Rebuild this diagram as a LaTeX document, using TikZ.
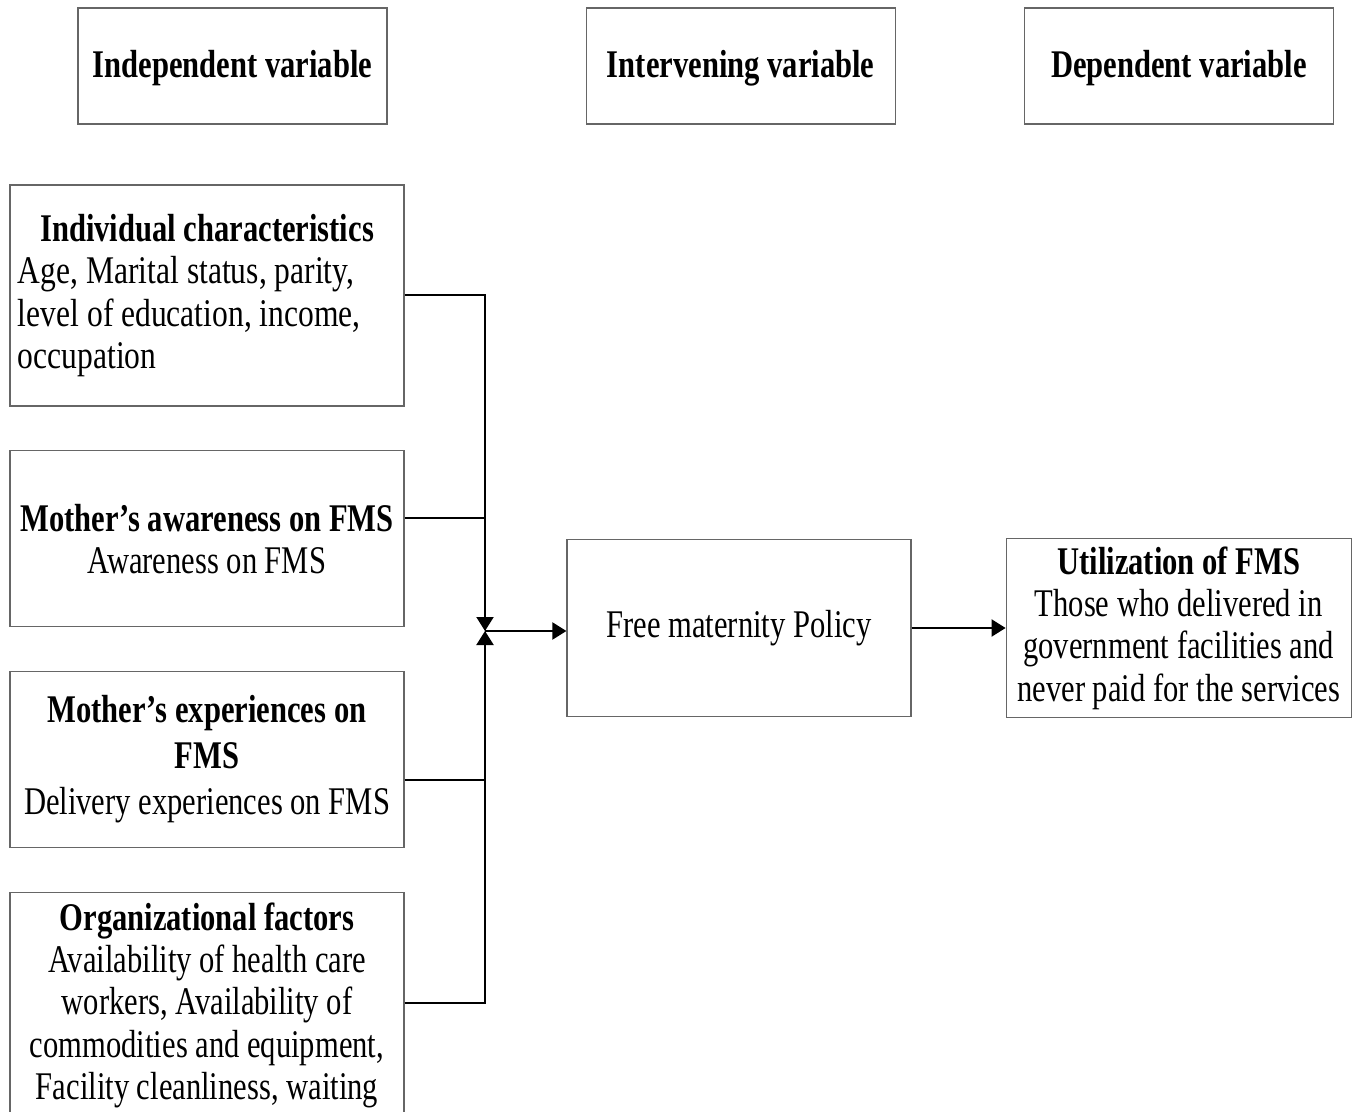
\documentclass[tikz,border=0pt]{standalone}
\usepackage{fontspec}
\setmainfont{Liberation Serif}[FakeStretch=0.78]
\usetikzlibrary{arrows.meta,positioning}

\begin{document}
\begin{tikzpicture}[
  x=0.5pt, y=-0.5pt,
  font=\fontsize{19.6}{21.2}\selectfont,
  >={Triangle[length=7pt,width=8.5pt]},
  box/.style={draw=black!60,line width=0.6pt,align=center,inner sep=4pt},
  head/.style={box,font=\fontsize{19.6}{21.2}\selectfont\bfseries,text height=15.5pt,
               minimum width=154.5pt,minimum height=58pt},
  factor/.style={box,align=flush center,inner xsep=3pt,text width=191pt,minimum height=88pt},
  flow/.style={line width=1pt,black},
]
\useasboundingbox (0,0) rectangle (1359,1112);
\clip (0,0) rectangle (1359,1112);

% ---- column headings ----------------------------------------------------
\node[head] (indep) at (232.5,66) {Independent variable};
\node[head,right=99pt of indep]  (interv) {Intervening variable};
\node[head,right=64pt of interv] (dep)    {Dependent variable};

% ---- independent variables (left column) --------------------------------
\node[factor,align=flush left,inner xsep=4pt,text width=189pt,minimum height=110.5pt] (ind) at (207,295.5)
   {\makebox[\hsize]{\bfseries Individual characteristics}\\
    \addfontfeatures{FakeStretch=0.805}%
    Age, Marital status, parity,\\level of education, income,\\occupation};
\node[factor,below=21.8pt of ind] (aw)
   {\textbf{Mother’s awareness on FMS}\\Awareness on FMS};
\node[factor,below=21.8pt of aw] (exp)
   {\textbf{Mother’s experiences on}\\[1.8pt]\textbf{FMS}\\[1.8pt]Delivery experiences on FMS};
\node[factor,below=21.8pt of exp,inner ysep=5pt,text depth=130pt] (org)
   {\textbf{Organizational factors}\\Availability of health care\\workers, Availability of\\
    commodities and equipment,\\Facility cleanliness, waiting};

% ---- intervening and dependent variables --------------------------------
\node[box,minimum width=172pt,minimum height=88.5pt] (pol) at (739,628)
   {Free maternity Policy};
\node[box,right=47pt of pol,minimum width=172.5pt,minimum height=87.5pt] (util)
   {\textbf{Utilization of FMS}\\Those who delivered in\\government facilities and\\never paid for the services};

% ---- connectors -----------------------------------------------------------
\coordinate (jn)   at (485,631);
\coordinate (awj)  at (485,518);
\coordinate (expj) at (485,780);
\coordinate (orgj) at (485,1003);

\draw[flow,->] (ind.east) -- (ind.east -| jn) -- (jn);
\draw[flow] (awj -| aw.east) -- (awj);
\draw[flow] (expj -| exp.east) -- (expj);
\draw[flow,->] (orgj -| org.east) -- (orgj) -- (jn);
\draw[flow,->] (jn) -- (jn -| pol.west);
\draw[flow,->] (pol) -- (util);

\end{tikzpicture}
\end{document}
